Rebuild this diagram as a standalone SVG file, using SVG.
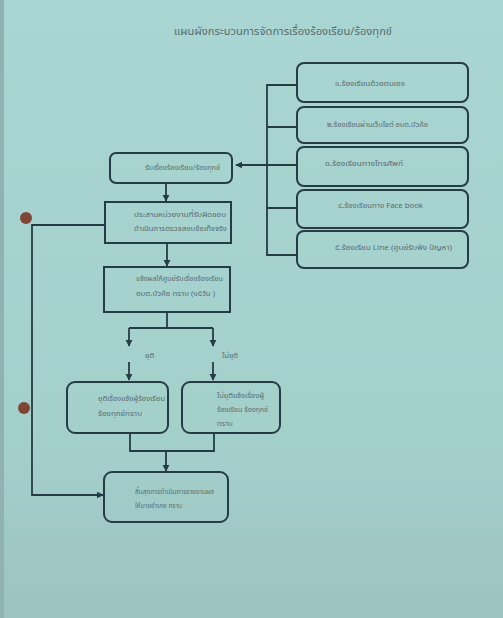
<svg xmlns="http://www.w3.org/2000/svg" width="503" height="618" viewBox="0 0 503 618">
<defs>
<linearGradient id="bg" x1="0" y1="0" x2="0" y2="1">
<stop offset="0" stop-color="#a9d6d2"/>
<stop offset="0.7" stop-color="#a4d0cc"/>
<stop offset="1" stop-color="#9cc3c0"/>
</linearGradient>
<marker id="ah" viewBox="0 0 10 10" refX="9" refY="5" markerWidth="4" markerHeight="4" orient="auto">
<path d="M0,0 L10,5 L0,10 z" fill="#263c44"/>
</marker>
<style>
.box{fill:none;stroke:#263c44;stroke-width:2}
.ln{fill:none;stroke:#263c44;stroke-width:1.8}
.t{font-family:"Noto Sans","Noto Sans Thai",sans-serif;font-size:7.5px;fill:#5a6b70}
.title{font-family:"Noto Sans","Noto Sans Thai",sans-serif;font-size:11px;fill:#5a6b70}
</style>
</defs>
<rect x="0" y="0" width="503" height="618" fill="url(#bg)"/>
<rect x="0" y="0" width="4" height="618" fill="#8fb3b0"/>
<circle cx="26" cy="218" r="6" fill="#7f4636"/>
<circle cx="24" cy="408" r="6" fill="#7f4636"/>
<text class="title" x="174" y="35" textLength="218" lengthAdjust="spacingAndGlyphs">แผนผังกระบวนการจัดการเรื่องร้องเรียน/ร้องทุกข์</text>

<g id="connectors">
<path class="ln" d="M297,85 H267 V255 H297"/>
<path class="ln" d="M267,127 H297 M267,208 H297"/>
<path class="ln" d="M297,165 H236" marker-end="url(#ah)"/>
<path class="ln" d="M166,183 V201" marker-end="url(#ah)"/>
<path class="ln" d="M167,243 V266" marker-end="url(#ah)"/>
<path class="ln" d="M167,312 V328 M129,328 H213"/>
<path class="ln" d="M129,328 V346" marker-end="url(#ah)"/>
<path class="ln" d="M213,328 V346" marker-end="url(#ah)"/>
<path class="ln" d="M129,362 V380" marker-end="url(#ah)"/>
<path class="ln" d="M213,362 V380" marker-end="url(#ah)"/>
<path class="ln" d="M130,433 V451 H214 V433"/>
<path class="ln" d="M166,451 V471" marker-end="url(#ah)"/>
<path class="ln" d="M104,225 H32 V495 H103" marker-end="url(#ah)"/>
<text class="t" x="145" y="358">ยุติ</text>
<text class="t" x="222" y="358">ไม่ยุติ</text>
</g>

<g id="src1"><rect class="box" x="297" y="63" width="171" height="39" rx="7"/><text class="t" x="335" y="86" textLength="70" lengthAdjust="spacingAndGlyphs">๑.ร้องเรียนด้วยตนเอง</text></g>
<g id="src2"><rect class="box" x="297" y="107" width="171" height="36" rx="7"/><text class="t" x="327" y="127" textLength="101" lengthAdjust="spacingAndGlyphs">๒.ร้องเรียนผ่านเว็บไซต์ อบต.บัวค้อ</text></g>
<g id="src3"><rect class="box" x="297" y="147" width="171" height="39" rx="7"/><text class="t" x="325" y="166" textLength="78" lengthAdjust="spacingAndGlyphs">๓.ร้องเรียนทางโทรศัพท์</text></g>
<g id="src4"><rect class="box" x="297" y="190" width="171" height="38" rx="7"/><text class="t" x="338" y="208" textLength="85" lengthAdjust="spacingAndGlyphs">๔.ร้องเรียนทาง Face book</text></g>
<g id="src5"><rect class="box" x="297" y="231" width="171" height="37" rx="7"/><text class="t" x="335" y="250" textLength="117" lengthAdjust="spacingAndGlyphs">๕.ร้องเรียน Line (ศูนย์รับฟัง ปัญหา)</text></g>

<g id="receive"><rect class="box" x="110" y="153" width="122" height="30" rx="6"/><text class="t" x="145" y="170" textLength="75" lengthAdjust="spacingAndGlyphs">รับเรื่องร้องเรียน/ร้องทุกข์</text></g>
<g id="coordinate"><rect class="box" x="105" y="202" width="126" height="41"/><text class="t" x="134" y="217" textLength="92" lengthAdjust="spacingAndGlyphs">ประสานหน่วยงานที่รับผิดชอบ</text><text class="t" x="134" y="231" textLength="93" lengthAdjust="spacingAndGlyphs">ดำเนินการตรวจสอบข้อเท็จจริง</text></g>
<g id="report"><rect class="box" x="104" y="267" width="126" height="45"/><text class="t" x="136" y="281" textLength="87" lengthAdjust="spacingAndGlyphs">แจ้งผลให้ศูนย์รับเรื่องร้องเรียน</text><text class="t" x="136" y="296" textLength="79" lengthAdjust="spacingAndGlyphs">อบต.บัวค้อ ทราบ (๑๕วัน )</text></g>
<g id="ended"><rect class="box" x="67" y="382" width="101" height="51" rx="8"/><text class="t" x="98" y="401" textLength="67" lengthAdjust="spacingAndGlyphs">ยุติเรื่องแจ้งผู้ร้องเรียน</text><text class="t" x="98" y="416" textLength="44" lengthAdjust="spacingAndGlyphs">ร้องทุกข์ทราบ</text></g>
<g id="notended"><rect class="box" x="182" y="382" width="98" height="51" rx="8"/><text class="t" x="217" y="398" textLength="47" lengthAdjust="spacingAndGlyphs">ไม่ยุติแจ้งเรื่องผู้</text><text class="t" x="217" y="412" textLength="51" lengthAdjust="spacingAndGlyphs">ร้องเรียน ร้องทุกข์</text><text class="t" x="217" y="426">ทราบ</text></g>
<g id="final"><rect class="box" x="104" y="472" width="124" height="50" rx="8"/><text class="t" x="135" y="494" textLength="79" lengthAdjust="spacingAndGlyphs">สิ้นสุดการดำเนินการรายงานผล</text><text class="t" x="135" y="508" textLength="47" lengthAdjust="spacingAndGlyphs">ให้นายอำเภอ ทราบ</text></g>
</svg>
